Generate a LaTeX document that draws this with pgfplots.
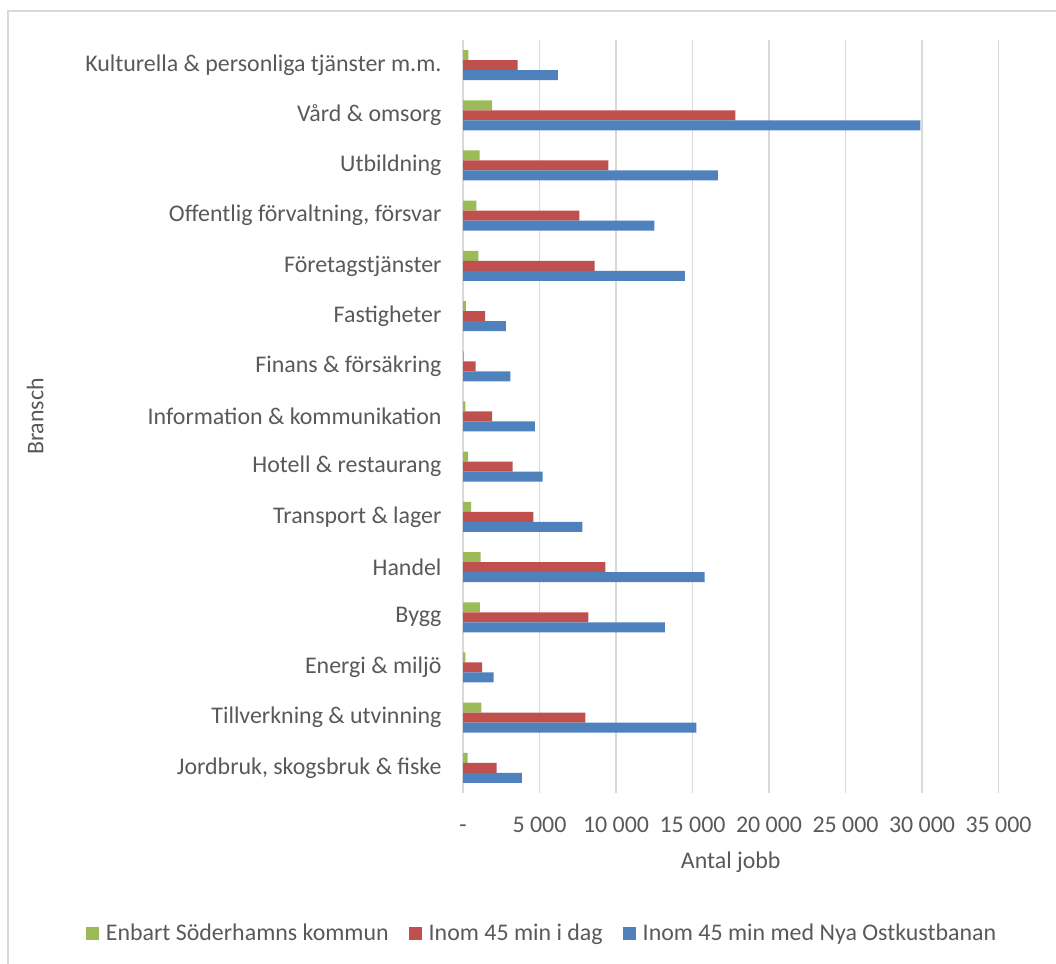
\documentclass[border=0pt]{standalone}
\usepackage{fontspec}
\setmainfont{Carlito}
\usepackage{pgfplots}
\pgfplotsset{compat=1.18}
\definecolor{cgreen}{HTML}{9BBB59}
\definecolor{cred}{HTML}{C0504D}
\definecolor{cblue}{HTML}{4F81BD}
\definecolor{txtgray}{HTML}{595959}
\definecolor{gridgray}{HTML}{D9D9D9}
\begin{document}
\begin{tikzpicture}[x=1bp,y=1bp]
\path[use as bounding box] (0,0) rectangle (1056,964);
\draw[gridgray, line width=1.2bp] (8,0) -- (8,953) -- (1056,953);
\begin{axis}[
 at={(463bp,171bp)}, anchor=south west,
 scale only axis, width=535.5bp, height=753bp,
 xbar, bar width=10bp,
 xmin=0, xmax=35000, ymin=-0.5, ymax=14.5,
 scaled x ticks=false,
 xtick={0,5000,10000,15000,20000,25000,30000,35000},
 xticklabels={-, 5 000, 10 000, 15 000, 20 000, 25 000, 30 000, 35 000},
 ytick={0,1,2,3,4,5,6,7,8,9,10,11,12,13,14},
 yticklabels={{Jordbruk, skogsbruk \& fiske},{Tillverkning \& utvinning},{Energi \& miljö},{Bygg},{Handel},{Transport \& lager},{Hotell \& restaurang},{Information \& kommunikation},{Finans \& försäkring},{Fastigheter},{Företagstjänster},{Offentlig förvaltning, försvar},{Utbildning\hspace{0.25em}},{Vård \& omsorg},{Kulturella \& personliga tjänster m.m.}},
 axis line style={draw=none},
 major tick length=0,
 xmajorgrids, grid style={gridgray, line width=1.5bp},
 tick label style={font=\fontsize{24}{28}\selectfont, text=txtgray},
 xticklabel style={anchor=base, yshift=-40bp},
 yticklabel style={xshift=-18bp},
 label style={font=\fontsize{24}{28}\selectfont, text=txtgray},
 xlabel={Antal jobb}, ylabel={Bransch},
 xlabel style={at={(axis description cs:0.5,-0.0916)}, anchor=center},
 ylabel style={at={(axis description cs:-0.799,0.5)}, anchor=center, rotate=0},
 legend columns=3,
 legend image code/.code={\fill[#1] (0bp,-6.5bp) rectangle (13bp,6.5bp);},
 legend style={draw=none, fill=none, at={(0.1475,-0.186)}, anchor=center,
   font=\fontsize{24}{28}\selectfont, text=txtgray,
   /tikz/every odd column/.append style={column sep=5bp},
   /tikz/every even column/.append style={column sep=18bp}},
]
\addplot[fill=cgreen, draw=none, bar shift=10bp] coordinates {
(300,0) (1200,1) (150,2) (1100,3) (1150,4) (530,5) (330,6) (150,7) (50,8) (180,9) (1000,10) (880,11) (1080,12) (1900,13) (350,14)};
\addplot[fill=cred, draw=none, bar shift=0bp] coordinates {
(2200,0) (8000,1) (1250,2) (8200,3) (9300,4) (4600,5) (3250,6) (1900,7) (830,8) (1450,9) (8600,10) (7600,11) (9500,12) (17800,13) (3575,14)};
\addplot[fill=cblue, draw=none, bar shift=-10bp] coordinates {
(3850,0) (15250,1) (2000,2) (13200,3) (15800,4) (7800,5) (5200,6) (4700,7) (3100,8) (2800,9) (14500,10) (12500,11) (16650,12) (29900,13) (6200,14)};
\legend{Enbart Söderhamns kommun, Inom 45 min i dag, Inom 45 min med Nya Ostkustbanan}
\end{axis}
\end{tikzpicture}
\end{document}
